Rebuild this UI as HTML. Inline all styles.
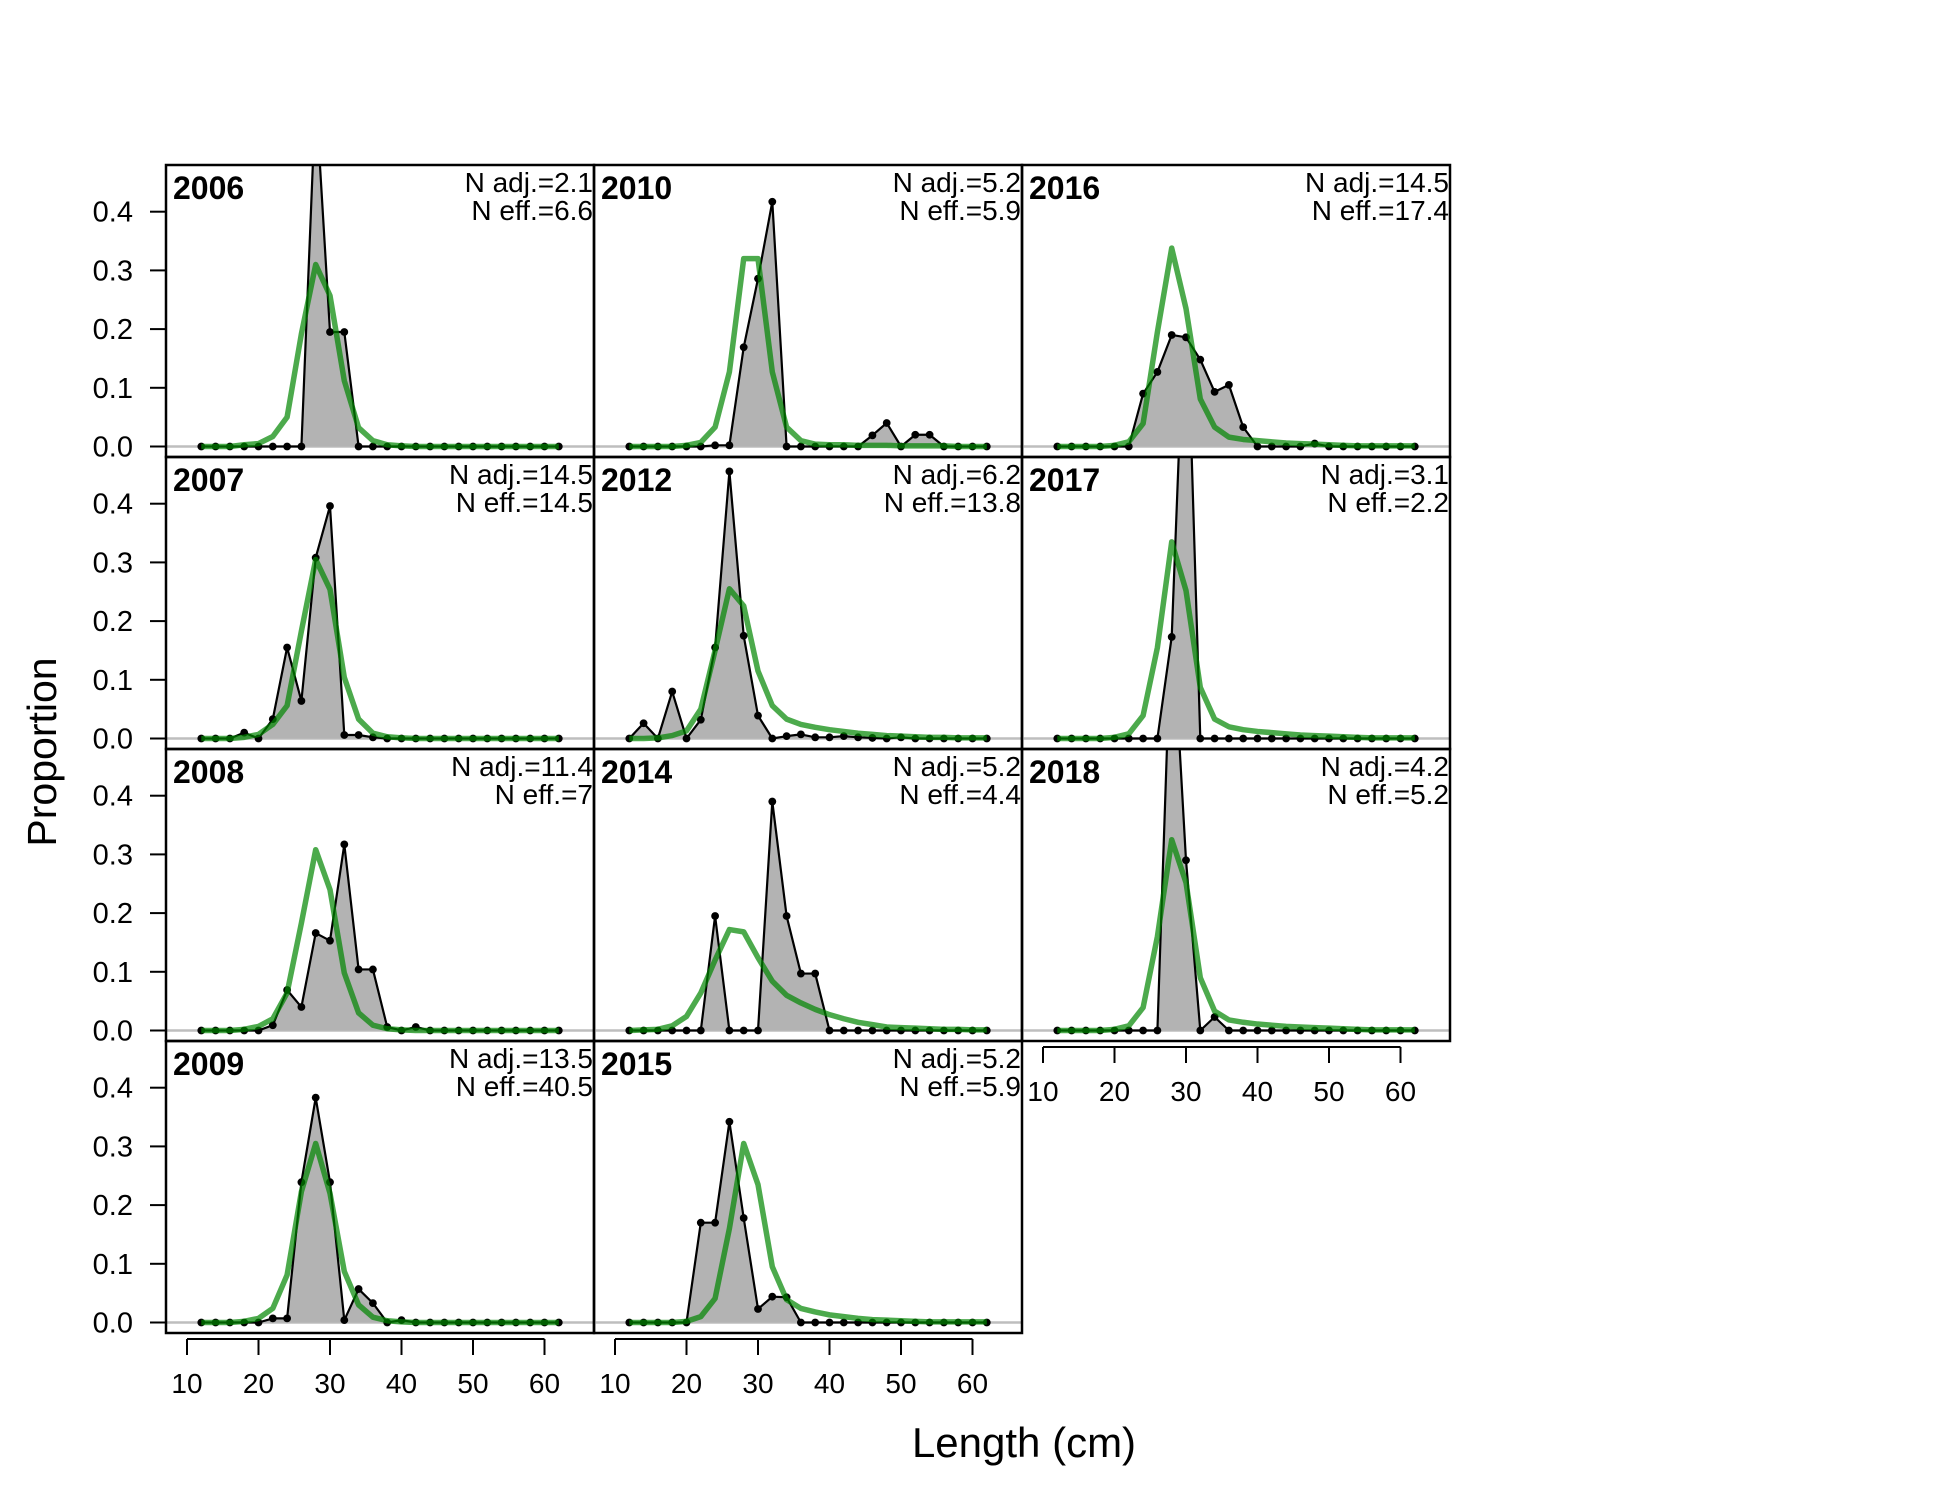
<!DOCTYPE html>
<html><head><meta charset="utf-8"><style>
html,body{margin:0;padding:0;background:#fff;}
svg{display:block;font-family:"Liberation Sans",Arial,sans-serif;}
</style></head><body>
<svg id="chart" width="1950" height="1500" viewBox="0 0 1950 1500" xmlns="http://www.w3.org/2000/svg"></svg>
<script>
const lengthBins = [12,14,16,18,20,22,24,26,28,30,32,34,36,38,40,42,44,46,48,50,52,54,56,58,60,62];
const years = [2006,2007,2008,2009,2010,2012,2014,2015,2016,2017,2018];
const nAdj = ["2.1","14.5","11.4","13.5","5.2","6.2","5.2","5.2","14.5","3.1","4.2"];
const nEff = ["6.6","14.5","7","40.5","5.9","13.8","4.4","5.9","17.4","2.2","5.2"];
const yTicks = [0,0.1,0.2,0.3,0.4];
const yTickLabels = ["0.0","0.1","0.2","0.3","0.4"];
const xTicks = [10,20,30,40,50,60];
const obs2006 = [0,0,0,0,0,0,0,0,0.6,0.195,0.195,0];
const exp2006 = [0,0,0,0.003,0.005,0.017,0.05,0.192,0.31,0.257,0.112,0.032,0.01,0.003,0.001];
const obs2007 = [0,0,0,0.01,0,0.033,0.155,0.064,0.308,0.396,0.006,0.006,0.002];
const exp2007 = [0,0,0,0.002,0.007,0.024,0.056,0.183,0.305,0.254,0.104,0.033,0.009,0.003,0.001];
const obs2008 = [0,0,0,0,0,0.009,0.069,0.04,0.166,0.153,0.317,0.104,0.104,0.006,0,0.006];
const exp2008 = [0,0,0,0.002,0.007,0.02,0.064,0.183,0.308,0.24,0.098,0.03,0.009,0.003,0.001];
const obs2009 = [0,0,0,0,0,0.007,0.007,0.239,0.383,0.239,0.004,0.057,0.033,0,0.004];
const exp2009 = [0,0,0,0.002,0.007,0.024,0.081,0.223,0.305,0.22,0.087,0.03,0.009,0.003,0.001];
const obs2010 = [0,0,0,0,0,0,0.002,0.002,0.169,0.286,0.417,0,0,0,0,0,0,0.019,0.04,0,0.02,0.02,0,0,0,0];
const exp2010 = [0,0,0,0,0.002,0.007,0.033,0.127,0.32,0.32,0.127,0.033,0.01,0.004,0.003,0.003,0.002,0.002,0.002,0.001,0.001,0.001,0.001,0,0,0];
const obs2012 = [0,0.026,0,0.08,0,0.032,0.155,0.455,0.175,0.039,0,0.004,0.007,0.002,0.002,0.004,0.002,0.001,0,0.002,0,0,0,0,0,0];
const exp2012 = [0,0,0.001,0.005,0.013,0.05,0.15,0.255,0.226,0.115,0.056,0.033,0.024,0.019,0.015,0.012,0.009,0.007,0.005,0.004,0.003,0.002,0.002,0.001,0.001,0.001];
const obs2014 = [0,0,0,0,0,0,0.195,0,0,0,0.39,0.195,0.097,0.097,0];
const exp2014 = [0,0.001,0.002,0.008,0.024,0.064,0.12,0.172,0.168,0.124,0.084,0.06,0.047,0.036,0.027,0.02,0.014,0.01,0.006,0.005,0.004,0.003,0.002,0.002,0.001,0.001];
const obs2015 = [0,0,0,0,0,0.17,0.17,0.342,0.178,0.023,0.044,0.043,0];
const exp2015 = [0,0,0,0,0.002,0.01,0.041,0.16,0.305,0.235,0.095,0.039,0.024,0.018,0.013,0.01,0.007,0.005,0.004,0.003,0.002,0.001,0.001,0.001,0.001,0.001];
const obs2016 = [0,0,0,0,0,0,0.09,0.127,0.19,0.186,0.148,0.093,0.105,0.033,0,0,0,0,0.005,0];
const exp2016 = [0,0,0,0,0.002,0.008,0.039,0.195,0.338,0.235,0.081,0.033,0.016,0.012,0.01,0.008,0.006,0.005,0.004,0.003,0.002,0.001,0.001,0.001,0.001,0.001];
const obs2017 = [0,0,0,0,0,0,0,0,0.173,0.8,0];
const exp2017 = [0,0,0,0,0.002,0.008,0.039,0.155,0.335,0.252,0.087,0.033,0.02,0.015,0.012,0.01,0.008,0.006,0.005,0.004,0.003,0.002,0.001,0.001,0.001,0.001];
const obs2018 = [0,0,0,0,0,0,0,0,0.72,0.29,0,0.023,0];
const exp2018 = [0,0,0,0,0.002,0.008,0.039,0.16,0.325,0.252,0.09,0.033,0.018,0.014,0.011,0.009,0.007,0.006,0.005,0.004,0.003,0.002,0.001,0.001,0.001,0.001];
const obsSeries = [obs2006,obs2007,obs2008,obs2009,obs2010,obs2012,obs2014,obs2015,obs2016,obs2017,obs2018];
const expSeries = [exp2006,exp2007,exp2008,exp2009,exp2010,exp2012,exp2014,exp2015,exp2016,exp2017,exp2018];

const NS = "http://www.w3.org/2000/svg";
const svg = document.getElementById('chart');
const PL = 166, PT = 165, PW = 428, PH = 292;
function mk(tag, attrs, parent){ const e=document.createElementNS(NS,tag); for(const k in attrs) e.setAttribute(k,attrs[k]); (parent||svg).appendChild(e); return e; }
function xScale(left, L){ return left + 21 + (L-10)*7.15; }
function yScale(bottom, v){ return bottom - 10.5 - v*587; }
function val(arr,i){ return i < arr.length ? arr[i] : 0; }

const defs = mk('defs',{});
years.forEach((yr, p) => {
  const col = Math.floor(p/4), row = p%4;
  const left = PL + col*PW, top = PT + row*PH, bottom = top + PH;
  const g = mk('g',{});
  
  
  const cp = mk('clipPath',{id:'clip'+p}, defs);
  mk('rect',{x:left,y:top,width:PW,height:PH}, cp);
  const inner = mk('g',{'clip-path':'url(#clip'+p+')'}, g);
  const zl = mk('line',{x1:left,x2:left+PW,y1:yScale(bottom,0),y2:yScale(bottom,0),stroke:'#bebebe','stroke-width':2.5}, inner);
  
  
  const obs = obsSeries[p], ex = expSeries[p];
  let pts = lengthBins.map((L,i)=>[xScale(left,L), yScale(bottom,val(obs,i))]);
  const polyPts = [[pts[0][0],yScale(bottom,0)], ...pts, [pts[pts.length-1][0],yScale(bottom,0)]];
  const fill = mk('polygon',{points:polyPts.map(q=>q.join(',')).join(' '),fill:'#b3b3b3',stroke:'none'}, inner);
  
  
  const ol = mk('polyline',{points:pts.map(q=>q.join(',')).join(' '),fill:'none',stroke:'#000','stroke-width':2.2,'stroke-linejoin':'round'}, inner);
  
  
  pts.forEach((q,i)=>{
    const c = mk('circle',{cx:q[0],cy:q[1],r:3.9,fill:'#000'}, inner);
    
    
  });
  const ep = lengthBins.map((L,i)=>[xScale(left,L), yScale(bottom,val(ex,i))]);
  const el = mk('polyline',{points:ep.map(q=>q.join(',')).join(' '),fill:'none',stroke:'rgb(0,134,0)','stroke-opacity':0.7,'stroke-width':5.5,'stroke-linejoin':'round'}, inner);
  
  
  const bd = mk('rect',{x:left,y:top,width:PW,height:PH,fill:'none',stroke:'#000','stroke-width':2.5}, g);
  
  
  const yt = mk('text',{x:left+7,y:top+34,'font-size':32,'font-weight':'bold',fill:'#000'}, g);
  yt.textContent = yr;
  
  
  const t1 = mk('text',{x:left+PW-1,y:top+27,'font-size':28,'text-anchor':'end',fill:'#000'}, g);
  t1.textContent = 'N adj.=' + nAdj[p];
  
  
  const t2 = mk('text',{x:left+PW-1,y:top+55,'font-size':28,'text-anchor':'end',fill:'#000'}, g);
  t2.textContent = 'N eff.=' + nEff[p];
  
  
  if (col === 0) {
    yTicks.forEach((v,k)=>{
      const yy = yScale(bottom,v);
      const tk = mk('line',{x1:left-16,x2:left,y1:yy,y2:yy,stroke:'#000','stroke-width':2}, g);
      
      
      const tl = mk('text',{x:left-33,y:yy+10,'font-size':29,'text-anchor':'end',fill:'#000'}, g);
      tl.textContent = yTickLabels[k];
      
      
    });
  }
  const isBottom = (row === 3) || (col === 2 && row === 2);
  if (isBottom) {
    const ay = bottom + 6;
    const ax = mk('line',{x1:xScale(left,10),x2:xScale(left,60),y1:ay,y2:ay,stroke:'#000','stroke-width':2}, g);
    
    
    xTicks.forEach(v=>{
      const xx = xScale(left,v);
      const tk = mk('line',{x1:xx,x2:xx,y1:ay,y2:ay+16,stroke:'#000','stroke-width':2}, g);
      
      
      const tl = mk('text',{x:xx,y:bottom+60,'font-size':28,'text-anchor':'middle',fill:'#000'}, g);
      tl.textContent = v;
      
      
    });
  }
});
const xl = mk('text',{x:1024,y:1457,'font-size':42,'text-anchor':'middle',fill:'#000'});
xl.textContent = 'Length (cm)';


const yl = mk('text',{x:0,y:0,'font-size':41,'text-anchor':'middle',fill:'#000',transform:'translate(56,752) rotate(-90)'});
yl.textContent = 'Proportion';


</script>
</body></html>
